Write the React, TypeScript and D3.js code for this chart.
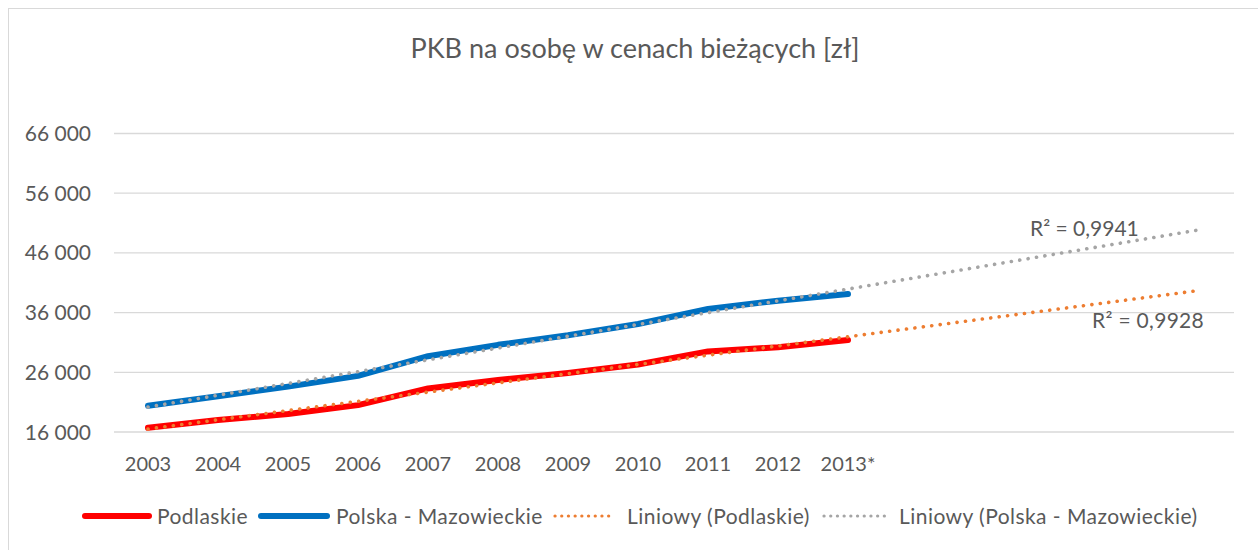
import React from "react";
import * as d3 from "d3";

const years = ["2003", "2004", "2005", "2006", "2007", "2008", "2009", "2010", "2011", "2012", "2013*"];
const forecastPeriods = 5;
const podlaskie = [16700, 18000, 19000, 20500, 23300, 24700, 25900, 27300, 29500, 30200, 31400];
const polska = [20400, 22000, 23600, 25400, 28700, 30600, 32200, 34100, 36600, 38000, 39100];
const yTicks = [16000, 26000, 36000, 46000, 56000, 66000];
const r2Podlaskie = "R² = 0,9928";
const r2Polska = "R² = 0,9941";
const title = "PKB na osobę w cenach bieżących [zł]";

const FONT = "Lato, 'Open Sans', sans-serif";
const TXT = "#595959";

function linReg(vals: number[]) {
  const n = vals.length;
  const xm = (n - 1) / 2;
  const ym = d3.mean(vals) as number;
  let num = 0, den = 0;
  vals.forEach((v, i) => { num += (i - xm) * (v - ym); den += (i - xm) * (i - xm); });
  const slope = num / den;
  return (x: number) => ym + slope * (x - xm);
}

export default function App() {
  const nCat = years.length + forecastPeriods;
  const idx = d3.range(nCat);
  const x = d3.scaleBand<number>().domain(idx).range([113, 1233]).padding(0);
  const cx = (i: number) => (x(i) as number) + x.bandwidth() / 2;
  const y = d3.scaleLinear().domain([16000, 66000]).range([432, 133.5]);

  const line = d3.line<number>().x((_, i) => cx(i)).y((v) => y(v));
  const trendLine = (vals: number[]) => {
    const f = linReg(vals);
    return d3.line<number>().x((i) => cx(i)).y((i) => y(f(i)))(idx) as string;
  };

  const fmt = (v: number) => d3.format(",")(v).replace(/,/g, " ");

  const legend = [
    { label: "Podlaskie", color: "#FF0000", dotted: false, x0: 82, x1: 152, tx: 157 },
    { label: "Polska - Mazowieckie", color: "#0070C0", dotted: false, x0: 258, x1: 330, tx: 336 },
    { label: "Liniowy (Podlaskie)", color: "#ED7D31", dotted: true, x0: 555, x1: 615, tx: 627 },
    { label: "Liniowy (Polska - Mazowieckie)", color: "#A5A5A5", dotted: true, x0: 824, x1: 886, tx: 899 },
  ];

  return (
    <svg width={1258} height={550} style={{ position: "absolute", left: 0, top: 0 }} fontFamily={FONT}>
      <rect x={0} y={0} width={1258} height={550} fill="#fff" />
      <rect x={8.5} y={8.5} width={1300} height={600} fill="none" stroke="#d9d9d9" strokeWidth={1} />
      <text x={635} y={58} textAnchor="middle" fontSize={27} fill={TXT}>{title}</text>
      {yTicks.map((t) => (
        <g key={t}>
          <line x1={114} x2={1234} y1={y(t)} y2={y(t)} stroke="#d9d9d9" strokeWidth={1.3} />
          <text x={91} y={y(t)} dy="0.36em" textAnchor="end" fontSize={21} fill={TXT}>{fmt(t)}</text>
        </g>
      ))}
      {years.map((yr, i) => (
        <text key={yr} x={cx(i)} y={471} textAnchor="middle" fontSize={20} fill={TXT}>{yr}</text>
      ))}
      <path d={line(podlaskie) as string} fill="none" stroke="#FF0000" strokeWidth={6} strokeLinecap="round" strokeLinejoin="round" />
      <path d={line(polska) as string} fill="none" stroke="#0070C0" strokeWidth={6} strokeLinecap="round" strokeLinejoin="round" />
      <path d={trendLine(podlaskie)} fill="none" stroke="#ED7D31" strokeWidth={3.6} strokeLinecap="round" strokeDasharray="0.1 8.4" />
      <path d={trendLine(polska)} fill="none" stroke="#A5A5A5" strokeWidth={3.6} strokeLinecap="round" strokeDasharray="0.1 8.4" />
      <text x={1030} y={236} fontSize={21} fill={TXT}>{r2Polska}</text>
      <text x={1092} y={328} fontSize={21} fill={TXT} letterSpacing={0.3}>{r2Podlaskie}</text>
      {legend.map((l) => (
        <g key={l.label}>
          {l.dotted ? (
            <line x1={l.x0} x2={l.x1} y1={516} y2={516} stroke={l.color} strokeWidth={3.2} strokeLinecap="round" strokeDasharray="0.1 6.6" />
          ) : (
            <line x1={l.x0 + 3} x2={l.x1 - 3} y1={516} y2={516} stroke={l.color} strokeWidth={6} strokeLinecap="round" />
          )}
          <text x={l.tx} y={516} dy="0.36em" fontSize={21} letterSpacing={0.45} fill={TXT}>{l.label}</text>
        </g>
      ))}
    </svg>
  );
}
